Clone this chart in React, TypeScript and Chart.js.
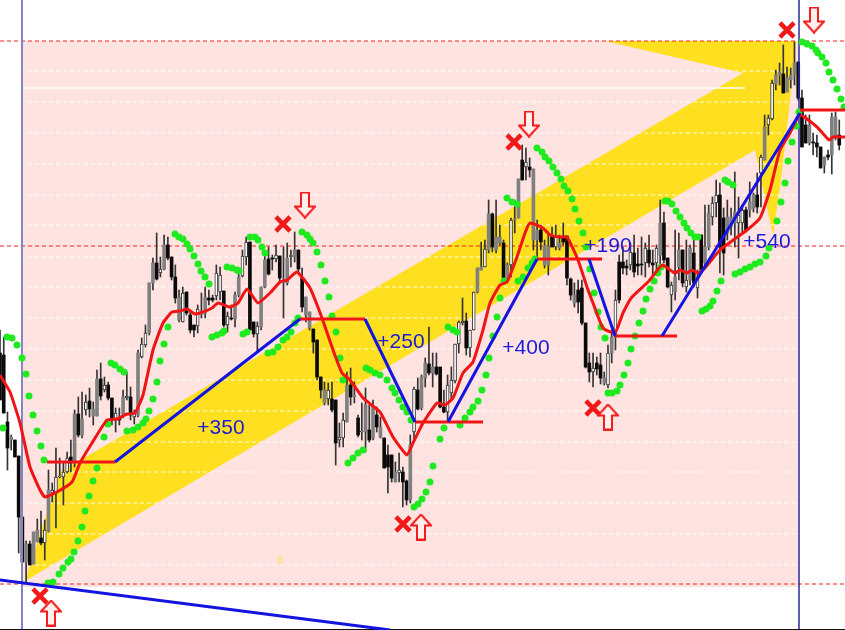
import React, { useEffect, useRef } from "react";
import { Chart, registerables } from "chart.js";

Chart.register(...registerables);

const barStep = 3.73;
const highs = [330,337,412,435,440,456,517,541,541,532,519,511,520,470,483,448,458,462,452,440,410,397,392,395,388,402,370,363,377,382,398,408,408,390,372,387,410,350,338,325,283,258,233,257,235,237,257,265,290,287,292,310,325,305,293,287,290,295,265,267,291,312,305,292,272,250,237,242,322,322,287,255,247,255,245,256,247,243,250,232,250,268,297,312,329,340,377,382,383,382,400,423,413,372,368,382,415,403,388,405,400,407,417,438,445,455,462,453,467,480,435,387,378,375,358,327,353,353,367,390,375,367,344,321,298,313,330,292,268,242,240,200,213,200,225,240,263,218,200,179,145,148,158,169,220,225,240,235,227,225,235,223,236,278,283,280,280,323,353,353,357,353,372,345,330,290,255,247,260,243,235,248,237,243,235,250,245,200,212,258,282,230,233,250,240,245,240,270,235,205,205,197,180,183,208,200,208,172,197,205,207,182,193,173,155,115,115,80,70,63,45,67,68,42,62,90,115,115,133,135,147,157,150,113,112,120];
const lows = [400,413,470,450,457,553,562,582,565,564,541,545,560,532,502,528,478,505,473,472,467,437,438,415,417,425,416,400,392,400,425,432,425,418,400,420,424,417,358,347,335,290,280,277,270,260,280,303,322,322,315,333,337,333,318,318,305,302,300,300,327,332,320,327,297,277,265,330,337,352,330,288,275,270,262,283,318,285,267,262,272,312,322,330,353,380,398,405,405,412,465,447,447,422,405,403,437,440,452,442,440,432,438,468,493,482,482,482,507,505,503,442,410,410,387,375,387,375,408,413,420,400,383,353,325,355,357,330,293,270,267,253,252,253,245,283,283,277,233,218,180,180,177,250,257,250,268,275,247,250,250,245,285,300,307,313,325,368,382,387,375,384,385,388,363,350,303,274,275,270,277,275,275,277,267,275,270,265,263,288,312,300,280,287,292,285,287,298,272,265,250,225,217,273,275,240,235,247,258,232,232,217,212,213,207,160,135,120,90,85,93,92,88,85,100,147,143,145,155,157,168,173,160,174,140,150];
const bodyTops = [353,355,422,437,440,456,517,544,544,532,530,538,530,490,490,477,476,472,458,457,414,414,419,402,401,409,379,379,385,385,398,413,418,397,396,397,413,353,344,333,283,263,263,269,245,245,257,277,297,293,292,315,325,309,312,297,298,298,273,275,291,316,318,295,277,256,242,242,322,326,287,260,259,258,255,256,280,258,255,250,250,278,297,312,329,340,377,390,390,399,400,437,420,385,385,395,418,431,405,430,407,415,427,438,455,455,472,470,472,481,445,389,390,377,363,364,367,367,367,407,385,380,344,322,321,321,330,292,268,267,249,214,214,237,237,243,265,220,219,179,160,162,167,169,230,230,246,246,237,237,243,238,236,279,295,290,288,323,363,368,363,365,378,353,337,300,262,262,266,252,253,264,264,248,250,263,248,223,223,258,285,277,250,250,280,248,253,277,235,247,213,203,195,195,218,217,217,212,215,210,210,202,195,195,157,127,118,83,75,72,74,78,75,63,62,98,125,125,142,143,147,157,155,117,117,135];
const bodyBottoms = [400,413,448,440,457,517,562,562,565,564,542,543,543,531,493,493,477,477,472,463,463,435,435,410,409,416,416,396,390,398,420,420,420,414,398,415,417,415,357,345,333,283,279,273,269,258,277,298,320,322,313,330,330,326,314,313,300,300,296,292,325,325,319,319,295,276,257,330,334,334,327,287,274,259,259,278,283,283,257,257,269,307,315,328,342,377,390,403,399,410,443,440,438,422,397,397,435,432,432,440,438,427,437,468,467,478,482,473,482,500,500,432,409,408,378,373,373,374,407,412,412,393,381,344,323,348,348,330,292,270,267,250,247,250,243,278,278,265,220,218,180,167,170,240,240,242,265,265,247,247,248,242,278,295,303,302,323,367,372,372,369,378,383,385,353,337,300,268,268,265,272,266,265,263,263,265,263,255,260,287,295,292,267,283,287,280,283,288,270,263,247,217,203,247,253,233,227,223,223,223,230,210,208,207,173,160,125,119,84,75,93,92,80,75,98,147,143,143,143,147,168,165,157,155,138,145];
const bodyKinds = ("kkkgkkkgkg"+"gkwgwwwwwk"+"gkgwkgg" +"kwk"+"kwkgwkwgww"+"ggkwgkkkgw"+"kkkwggkkww"+"kwkggwwkkw"+"ggkkwkggwg"+"kkggkkkgwk"+"kwwgkgkwgk"+"gkgkkkgwkk"+"gwkggkgkkk"+"wwwwwkwwgg"+"wgkggkgwgg"+"kwkggkggkw"+"gkkkgkkkkw"+"kkgwgwkkkw"+"kkkwkkwgkk"+"wggkwgkwkg"+"gwwkkgggww"+"kggkwgwwgg"+"kgggkkkgkk"+"kgkggk").split("");

const maX = [0,10,20,30,40,45,57,72,80,92,107,117,127,135,143,153,163,172,180,187,195,203,212,218,230,238,247,258,270,280,287,297,310,322,333,342,350,363,380,393,407,413,423,437,445,453,463,473,483,490,500,507,517,525,530,543,550,560,567,578,587,593,603,615,623,632,648,660,663,675,680,687,692,698,705,720,747,760,770,780,790,800,817,829,833,845];
const maY = [375,392,423,467,490,497,492,482,463,443,420,419,414,413,395,350,323,312,311,309,314,312,308,303,307,303,289,303,293,282,280,272,288,318,350,373,380,398,412,437,455,443,423,403,405,398,373,362,330,303,285,282,257,233,223,228,235,237,237,260,287,303,328,333,313,297,282,267,265,273,270,273,270,273,268,250,230,218,190,150,133,115,127,140,137,137];

const sarX = [3,7,12,17,22,26,29,33,37,41,44,48,53,59,63,68,71,74,78,82,85,89,93,97,104,108,111,115,120,124,127,133,138,143,146,149,153,157,160,164,168,175,179,183,187,190,194,198,201,205,209,212,217,222,224,227,232,237,239,243,247,250,255,258,262,265,268,273,278,283,287,291,295,298,302,307,310,313,317,321,325,329,332,336,340,343,348,353,358,363,366,370,375,380,387,392,395,399,403,407,411,414,418,422,426,430,433,440,444,448,453,457,460,465,470,473,478,482,486,489,493,497,500,504,507,512,517,518,523,528,532,535,537,542,545,549,553,557,561,564,568,572,575,579,583,586,590,594,598,601,605,608,612,617,620,624,628,631,635,639,643,646,650,654,658,661,665,668,672,676,680,684,687,691,695,698,702,706,710,713,717,721,725,728,733,735,740,745,750,755,760,766,769,777,781,785,788,792,796,799,802,807,812,816,818,822,826,829,833,837,841,844];
const sarY = [428,337,338,345,358,374,396,415,431,446,460,583,582,574,568,562,559,552,541,527,511,496,481,468,437,424,363,365,369,372,431,430,427,423,419,411,399,382,361,344,327,234,237,239,244,249,256,264,271,277,284,337,335,333,331,267,268,270,271,334,332,237,237,240,247,253,353,352,347,340,337,332,323,318,232,235,239,243,252,265,281,297,316,332,358,380,463,458,453,450,368,370,373,375,380,388,393,400,407,412,420,507,504,499,492,482,466,439,428,327,330,332,425,418,412,407,401,390,375,358,336,317,298,281,198,202,204,281,277,268,263,259,148,152,157,161,167,173,179,186,191,199,209,221,233,247,269,293,312,327,338,393,393,391,385,375,363,349,336,323,311,299,289,281,273,267,201,201,204,211,217,223,228,233,237,237,311,309,306,301,291,281,180,182,185,274,272,269,267,264,262,256,248,221,202,183,161,142,126,112,42,44,46,50,53,57,63,72,80,89,99,107];

const gridYs = [71,102,133,164,195,225,257,287,318,349,380,411,442,472,503,534,565];
const dashedRedYs = [41,246,584];
const solidWhiteY = 88;
const pinkX = [22,799,799,22];
const pinkY = [41,41,587,587];
const yellowX = [25,755,760,773,780,790,796,605,743,60];
const yellowY = [581,150,175,235,187,100,41,41,73,472];
const bottomBlueX = [0,390];
const bottomBlueY = [580,630];
const profitBlue = [[115,462,300,319],[365,319,415,422],[448,422,537,259],[589,259,615,336],[662,336,800,113]];
const entryRed = [[47,115,462],[300,365,319],[415,483,422],[537,602,259],[615,677,336],[800,845,110]];
const crossX = [40,283,403,514,593,787];
const crossY = [596,224,524,142,408,30];
const upArrowX = [51,421,608];
const upArrowY = [613,527,417];
const downArrowX = [305,529,814];
const downArrowY = [205,124,20];
const labelTexts = ["+350","+250","+400","+190","+540"];
const labelX = [221,401,526,608,767];
const labelY = [428,342,348,246,242];

function arrowImage(up: boolean) {
  const c = document.createElement("canvas");
  c.width = 22; c.height = 27;
  const g = c.getContext("2d")!;
  const pts = [[11,1],[21,12],[15,12],[15,26],[7,26],[7,12],[1,12]];
  g.beginPath();
  pts.forEach(([x,y],i) => { const py = up ? y : 27 - y; if (i) g.lineTo(x,py); else g.moveTo(x,py); });
  g.closePath();
  g.fillStyle = "rgba(255,240,238,0.9)";
  g.fill();
  g.strokeStyle = "#f51c1c";
  g.lineWidth = 2;
  g.stroke();
  return c;
}

const zip = (xs: number[], ys: number[]) => xs.map((x,i) => ({x, y: ys[i]}));
const hLine = (y: number, a = 0, b = 845) => [{x:a,y},{x:b,y}];

const labelsPlugin = {
  id: "tradeLabels",
  afterDatasetsDraw(chart: any) {
    const { ctx, scales } = chart;
    ctx.save();
    ctx.font = "21px 'Liberation Sans', Arial, sans-serif";
    ctx.fillStyle = "#1c1cd8";
    ctx.textAlign = "center";
    ctx.textBaseline = "middle";
    labelTexts.forEach((t,i) => ctx.fillText(t, scales.x.getPixelForValue(labelX[i]), scales.y.getPixelForValue(labelY[i])));
    ctx.font = "bold 10px 'Liberation Sans', Arial, sans-serif";
    ctx.fillStyle = "#ffe26a";
    ctx.fillText("0", scales.x.getPixelForValue(280), scales.y.getPixelForValue(561));
    ctx.restore();
  },
};

export default function App() {
  const ref = useRef<HTMLCanvasElement>(null);
  useEffect(() => {
    const seg = (data: any[], color: string, width: number, extra: any = {}) => ({
      type: "line", data, borderColor: color, borderWidth: width, pointRadius: 0, fill: false, tension: 0, ...extra,
    });
    const datasets: any[] = [];
    let order = 1000;
    const add = (d: any) => { d.order = order--; datasets.push(d); };

    add(seg(zip(pinkX, pinkY).concat(zip(pinkX, pinkY).slice(0,1)), "rgba(0,0,0,0)", 0, { fill: "shape", backgroundColor: "#fee3e0" }));
    add(seg(zip(yellowX, yellowY).concat(zip(yellowX, yellowY).slice(0,1)), "rgba(0,0,0,0)", 0, { fill: "shape", backgroundColor: "#ffe020" }));
    gridYs.forEach(y => add(seg(hLine(y), "rgba(255,255,255,0.9)", 1, { borderDash: [4,3] })));
    add(seg(hLine(solidWhiteY, 22, 745), "#ffffff", 1.5));
    dashedRedYs.forEach(y => add(seg(hLine(y), "#fa1e1e", 1.2, { borderDash: [4,3] })));

    add({ type: "bar", grouped: false, barThickness: 1, backgroundColor: "#333333",
      data: highs.map((h,i) => ({ x: i*barStep, y: [h, lows[i]] })) });
    add({ type: "bar", grouped: false, barThickness: 3, borderSkipped: false,
      borderWidth: bodyKinds.map(k => k === "w" ? 1 : 0),
      borderColor: "#333333",
      backgroundColor: bodyKinds.map(k => k === "k" ? "#0a0a0a" : k === "g" ? "#808080" : "#ffffff"),
      data: bodyTops.map((t,i) => ({ x: i*barStep, y: [t, Math.max(bodyBottoms[i], t+1)] })) });

    add(seg([{x:22,y:0},{x:22,y:630}], "#8484c6", 2));
    add(seg([{x:799,y:0},{x:799,y:630}], "#2a2a9c", 1.5));
    add(seg(hLine(629.5), "#111111", 1.2));

    add({ type: "line", data: zip(sarX, sarY), showLine: false, pointRadius: 3.5, pointBackgroundColor: "#1fea1f", pointBorderWidth: 0 });
    add(seg(zip(maX, maY), "#f01414", 3, { borderJoinStyle: "round", tension: 0.15 }));
    entryRed.forEach(([a,b,y]) => add(seg(hLine(y,a,b), "#f01414", 3)));
    profitBlue.forEach(([a,b,c,d]) => add(seg([{x:a,y:b},{x:c,y:d}], "#1414e0", 3)));
    add(seg(zip(bottomBlueX, bottomBlueY), "#1414e0", 3));
    add({ type: "line", data: zip(crossX, crossY), showLine: false, pointStyle: "crossRot", pointRadius: 10, pointBorderWidth: 4.5, pointBorderColor: "#f01818" });
    add({ type: "line", data: zip(upArrowX, upArrowY), showLine: false, pointStyle: arrowImage(true), pointRadius: 10 });
    add({ type: "line", data: zip(downArrowX, downArrowY), showLine: false, pointStyle: arrowImage(false), pointRadius: 10 });

    const chart = new Chart(ref.current!, {
      type: "line",
      data: { datasets },
      options: {
        animation: false,
        responsive: false,
        devicePixelRatio: 1,
        layout: { padding: 0, autoPadding: false },
        plugins: { legend: { display: false }, tooltip: { enabled: false }, title: { display: false } },
        scales: {
          x: { type: "linear", display: false, min: 0, max: 845, offset: false },
          y: { type: "linear", display: false, min: 0, max: 630, reverse: true },
        },
      },
      plugins: [labelsPlugin],
    } as any);
    return () => chart.destroy();
  }, []);
  return (
    <div style={{ position: "fixed", left: 0, top: 0, width: 845, height: 630, background: "#fff", overflow: "hidden" }}>
      <canvas ref={ref} width={845} height={630} style={{ display: "block", filter: "blur(0.35px)" }} />
    </div>
  );
}
